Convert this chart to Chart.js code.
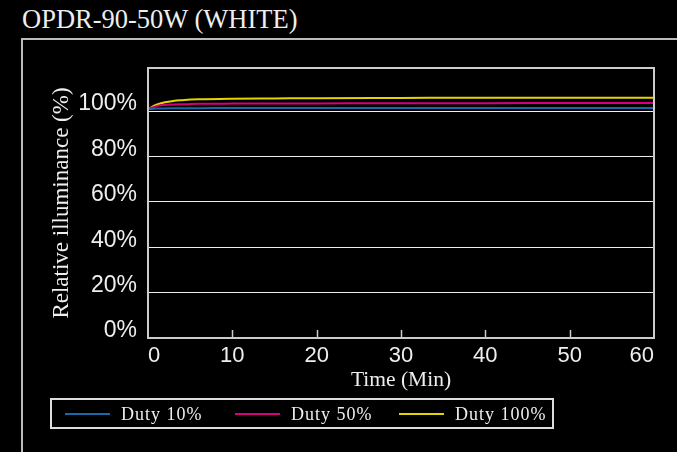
<!DOCTYPE html>
<html>
<head>
<meta charset="utf-8">
<script src="https://cdn.jsdelivr.net/npm/chart.js@4/dist/chart.umd.min.js"></script>
<style>
  html, body { margin:0; padding:0; background:#000; overflow:hidden; }
  #wrap { position:relative; width:677px; height:452px; }
  #title { position:absolute; left:22px; top:4px; color:#eee; font:26.5px "Liberation Serif", serif; white-space:nowrap; }
  #frame { position:absolute; left:21px; top:38px; width:700px; height:500px; border:2px solid #bbb; box-sizing:border-box; }
  #chart { position:absolute; left:0; top:0; }
  #legend { position:absolute; left:50px; top:398px; width:504px; height:31px; border:2px solid #ddd; box-sizing:border-box; }
  .item { position:absolute; top:4px; color:#eee; font:18px "Liberation Serif", serif; letter-spacing:1px; white-space:nowrap; }
  .item span.ln { display:inline-block; width:45px; height:0; border-top:2px solid; vertical-align:middle; margin-right:11px; position:relative; top:-2px; }
</style>
</head>
<body>
<div id="wrap">
  <div id="title">OPDR-90-50W (WHITE)</div>
  <div id="frame"></div>
  <canvas id="chart" width="677" height="452"></canvas>
  <div id="legend"></div>
</div>
<script>
// data
var timeMin  = [0, 1, 2, 3, 4, 6, 10, 15, 20, 30, 40, 50, 60];
var duty10   = [100.9, 101.1, 101.2, 101.25, 101.3, 101.3, 101.35, 101.35, 101.4, 101.4, 101.4, 101.4, 101.4];
var duty50   = [100.9, 102.2, 102.7, 102.9, 103.0, 103.2, 103.3, 103.35, 103.4, 103.5, 103.5, 103.6, 103.6];
var duty100  = [100.9, 102.8, 103.9, 104.5, 104.8, 105.2, 105.5, 105.6, 105.7, 105.8, 105.9, 105.9, 105.9];
var seriesNames  = ["Duty 10%", "Duty 50%", "Duty 100%"];
var seriesColors = ["#1a68a8", "#d4007c", "#e6d400"];
var yTicks = [0, 20, 40, 60, 80, 100];

function pts(vals){
    var out = [];
    for(var i=0; i<timeMin.length; i++){
        out.push({x: timeMin[i], y: vals[i]});
    }
    return out;
}

var allSeries = [duty10, duty50, duty100];
var datasets = [];
for(var i=0; i<allSeries.length; i++){
    datasets.push({
        label: seriesNames[i],
        data: pts(allSeries[i]),
        borderColor: seriesColors[i],
        borderWidth: 2,
        pointRadius: 0,
        cubicInterpolationMode: "monotone",
        fill: false
    });
}

// frame around plot + short inward tick marks on the time axis
var framePlugin = {
    id: "frame",
    afterDraw: function(chart){
        var ctx = chart.ctx, a = chart.chartArea, xs = chart.scales.x;
        ctx.save();
        ctx.strokeStyle = "#ccc";
        ctx.lineWidth = 2;
        ctx.strokeRect(a.left, a.top, a.right - a.left, a.bottom - a.top);
        ctx.lineWidth = 1.5;
        ctx.beginPath();
        xs.ticks.forEach(function(t){
            if(t.value <= xs.min || t.value >= xs.max) return;
            var px = Math.round(xs.getPixelForValue(t.value)) + 0.5;
            ctx.moveTo(px, a.bottom);
            ctx.lineTo(px, a.bottom - 8);
        });
        ctx.stroke();
        ctx.restore();
    }
};

new Chart(document.getElementById("chart"), {
    type: "line",
    data: { datasets: datasets },
    options: {
        responsive: false,
        animation: false,
        layout: { padding: { left: 0, top: 68, right: 23, bottom: 54 } },
        plugins: { legend: { display: false }, tooltip: { enabled: false } },
        scales: {
            x: {
                type: "linear",
                min: 0, max: 60,
                afterFit: function(s){ s.height = 60; },
                grid: { display: false, drawTicks: false },
                border: { display: false },
                ticks: {
                    stepSize: 10,
                    align: "inner",
                    padding: 5,
                    maxRotation: 0,
                    color: "#eee",
                    font: { family: "Liberation Sans, Arial, sans-serif", size: 22 }
                },
                title: {
                    display: true,
                    text: "Time (Min)",
                    color: "#eee",
                    padding: { top: 0, bottom: 5 },
                    font: { family: "Liberation Serif, serif", size: 21.5 }
                }
            },
            y: {
                min: 0, max: 119,
                afterFit: function(s){ s.width = 148; },
                afterBuildTicks: function(s){
                    s.ticks = yTicks.map(function(v){ return {value: v}; });
                },
                grid: { color: "#eee", lineWidth: 1, drawTicks: false },
                border: { display: false },
                ticks: {
                    padding: 11,
                    labelOffset: -7,
                    color: "#eee",
                    font: { family: "Liberation Sans, Arial, sans-serif", size: 23 },
                    callback: function(v){ return v + "%"; }
                },
                title: {
                    display: true,
                    text: "Relative illuminance (%)",
                    color: "#eee",
                    padding: { top: 48, bottom: 0 },
                    font: { family: "Liberation Serif, serif", size: 23 }
                }
            }
        }
    },
    plugins: [framePlugin]
});

// legend box below the chart
var legendX = [13, 183, 347];
var lg = document.getElementById("legend");
for(var i=0; i<seriesNames.length; i++){
    var d = document.createElement("div");
    d.className = "item";
    d.style.left = legendX[i] + "px";
    d.innerHTML = '<span class="ln" style="border-color:' + seriesColors[i] + '"></span>' + seriesNames[i];
    lg.appendChild(d);
}
</script>
</body>
</html>
